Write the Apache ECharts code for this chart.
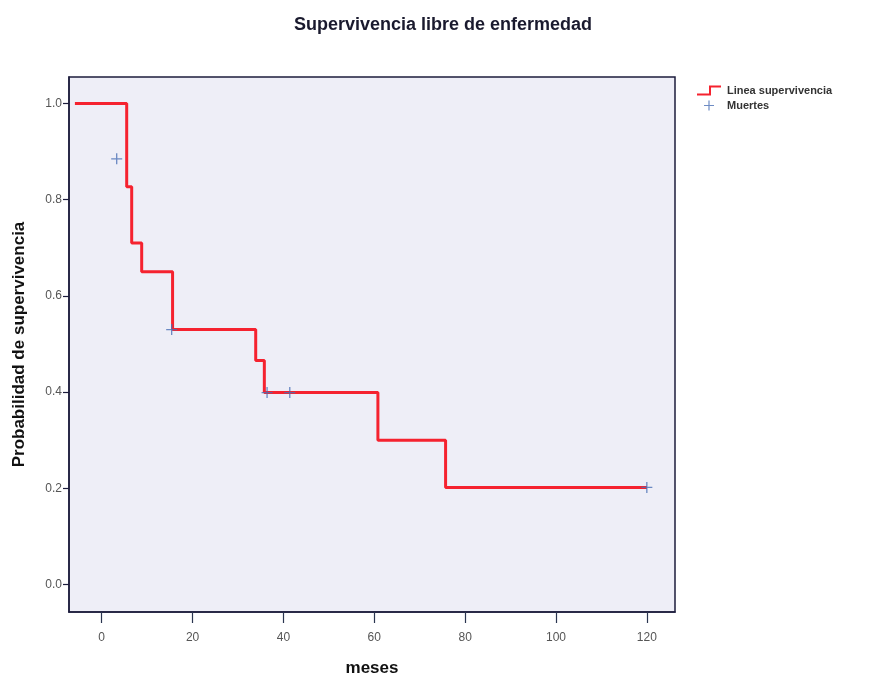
<!DOCTYPE html>
<html>
<head>
<meta charset="utf-8">
<script src="https://cdn.jsdelivr.net/npm/echarts@6/dist/echarts.min.js"></script>
<style>html,body{margin:0;padding:0;background:#fff}#c{width:875px;height:680px}</style>
</head>
<body>
<div id="c"></div>
<script>
// Kaplan-Meier step curve (months, survival)
var stepTimes = [-5.9, 5.5, 6.6, 8.8, 15.6, 33.9, 35.8, 60.8, 75.7, 120];
var stepSurv  = [1.0, 0.827, 0.710, 0.650, 0.530, 0.466, 0.399, 0.300, 0.202, 0.202];
// Marks ("Muertes")
var markTimes = [3.3, 15.4, 36.4, 41.4, 120];
var markSurv  = [0.885, 0.530, 0.399, 0.399, 0.202];
var xTicks = [0, 20, 40, 60, 80, 100, 120];
var yTicks = [0, 0.2, 0.4, 0.6, 0.8, 1.0];

var chart = echarts.init(document.getElementById('c'));
var plus = 'path://M4.4,0H5.6V4.4H10V5.6H5.6V10H4.4V5.6H0V4.4H4.4Z';
var stepIcon = 'path://M0,8H12V0H24V2H14V10H0Z';
chart.setOption({
  animation: false,
  backgroundColor: '#ffffff',
  title: {
    text: 'Supervivencia libre de enfermedad',
    left: 438, top: 11, textAlign: 'center',
    textStyle: {fontFamily: 'Liberation Sans', fontSize: 18, fontWeight: 'bold', color: '#1a1a2e'}
  },
  legend: {
    orient: 'vertical', left: 692, top: 80, itemGap: 4, itemWidth: 26, itemHeight: 10,
    textStyle: {fontFamily: 'Liberation Sans', fontSize: 11, fontWeight: 'bold', color: '#333'},
    data: [
      {name: 'Linea supervivencia', icon: stepIcon, itemStyle: {color: '#f5222f'}},
      {name: 'Muertes', icon: plus, itemStyle: {color: '#4a6fb5'}}
    ]
  },
  grid: {
    left: 69, right: 200, top: 77, bottom: 68, outerBoundsMode: 'none', containLabel: false,
    show: true, backgroundColor: '#eeeef7', borderColor: '#1c1c3c', borderWidth: 1.5
  },
  xAxis: {
    type: 'value', min: -7.2, max: 126.2,
    name: 'meses', nameLocation: 'middle', nameGap: 48,
    nameTextStyle: {fontFamily: 'Liberation Sans', fontSize: 17, fontWeight: 'bold', color: '#111'},
    axisLine: {show: true, onZero: false, lineStyle: {color: '#1c1c3c', width: 1.5}},
    axisTick: {show: true, customValues: xTicks, length: 11, lineStyle: {color: '#2a3550', width: 1.2}},
    axisLabel: {customValues: xTicks, margin: 20, fontFamily: 'Liberation Sans', fontSize: 12, color: '#555'},
    splitLine: {show: false}
  },
  yAxis: {
    type: 'value', min: -0.057, max: 1.055,
    name: 'Probabilidad de supervivencia', nameLocation: 'middle', nameGap: 41,
    nameTextStyle: {fontFamily: 'Liberation Sans', fontSize: 17, fontWeight: 'bold', color: '#111'},
    axisLine: {show: true, onZero: false, lineStyle: {color: '#1c1c3c', width: 1.5}},
    axisTick: {show: true, customValues: yTicks, length: 6, lineStyle: {color: '#1c1c3c', width: 1.2}},
    axisLabel: {customValues: yTicks, margin: 7, fontFamily: 'Liberation Sans', fontSize: 12, color: '#555',
      formatter: function (v) { return v.toFixed(1); }},
    splitLine: {show: false}
  },
  series: [
    {
      name: 'Linea supervivencia', type: 'line', step: 'end', showSymbol: false, symbol: 'none',
      lineStyle: {color: '#f5222f', width: 3}, itemStyle: {color: '#f5222f'},
      data: stepTimes.map(function (t, i) { return [t, stepSurv[i]]; }),
      z: 2
    },
    {
      name: 'Muertes', type: 'scatter', symbol: plus, symbolSize: 11,
      itemStyle: {color: '#4a6fb5'},
      data: markTimes.map(function (t, i) { return [t, markSurv[i]]; }),
      z: 3
    }
  ]
});
</script>
</body>
</html>
